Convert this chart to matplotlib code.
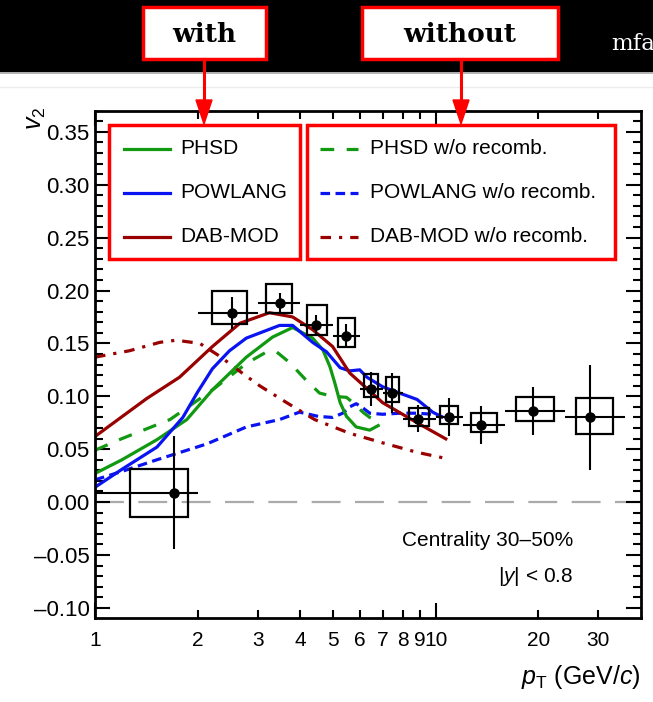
import matplotlib
matplotlib.use("Agg")
import matplotlib.pyplot as plt
from matplotlib.lines import Line2D
from matplotlib.patches import Rectangle, Polygon
from matplotlib.transforms import Affine2D
from matplotlib.ticker import FixedLocator, FuncFormatter, MultipleLocator

plt.rcParams['font.family'] = ['Liberation Sans', 'DejaVu Sans']
plt.rcParams['mathtext.fontset'] = 'custom'
plt.rcParams['mathtext.rm'] = 'Liberation Sans'
plt.rcParams['mathtext.it'] = 'Liberation Sans:italic'

# measured points (pT bins, v2, stat and syst)
pt = [1.7, 2.53, 3.48, 4.44, 5.44, 6.44, 7.43, 8.85, 10.9, 13.6, 19.3, 28.3]
pt_lo = [1, 2, 3, 4, 5, 6, 7, 8, 10, 12, 16, 24]
pt_hi = [2, 3, 4, 5, 6, 7, 8, 10, 12, 16, 24, 36]
v2 = [0.009, 0.179, 0.188, 0.167, 0.157, 0.107, 0.103, 0.079, 0.080, 0.073, 0.086, 0.080]
v2_stat = [0.053, 0.015, 0.010, 0.010, 0.011, 0.016, 0.019, 0.013, 0.018, 0.018, 0.023, 0.050]
sys_pt_lo = [1.27, 2.20, 3.17, 4.18, 5.15, 6.14, 7.13, 8.33, 10.3, 12.7, 17.2, 25.8]
sys_pt_hi = [1.87, 2.80, 3.78, 4.78, 5.78, 6.76, 7.79, 9.53, 11.6, 15.1, 22.2, 33.1]
sys_lo = [-0.014, 0.168, 0.179, 0.158, 0.147, 0.099, 0.095, 0.072, 0.074, 0.066, 0.077, 0.064]
sys_hi = [0.031, 0.200, 0.206, 0.186, 0.174, 0.121, 0.118, 0.089, 0.091, 0.084, 0.099, 0.098]

# model curves
phsd_pt = [1.0, 1.20, 1.52, 1.86, 2.21, 2.78, 3.32, 3.80, 4.35, 4.66, 4.89, 5.05, 5.24, 5.47, 5.84, 6.40, 6.84]
phsd_v2 = [0.027, 0.040, 0.059, 0.078, 0.106, 0.137, 0.156, 0.165, 0.155, 0.144, 0.128, 0.113, 0.094, 0.081, 0.071, 0.068, 0.073]
pow_pt = [1.0, 1.20, 1.52, 1.81, 2.0, 2.21, 2.48, 2.78, 3.48, 3.80, 4.35, 4.78, 5.24, 5.59, 5.98, 6.28, 6.98, 7.83, 8.81, 9.79, 10.5]
pow_v2 = [0.014, 0.031, 0.052, 0.080, 0.104, 0.126, 0.143, 0.155, 0.167, 0.167, 0.151, 0.142, 0.127, 0.124, 0.125, 0.118, 0.109, 0.103, 0.097, 0.085, 0.080]
dab_pt = [1.0, 1.18, 1.42, 1.77, 2.21, 2.66, 3.25, 3.80, 4.35, 4.98, 5.59, 6.98, 8.81, 10.8]
dab_v2 = [0.062, 0.079, 0.098, 0.118, 0.147, 0.169, 0.179, 0.175, 0.163, 0.147, 0.122, 0.094, 0.075, 0.059]

phsd_norec_pt = [1.0, 1.20, 1.66, 2.21, 2.78, 3.19, 3.41, 3.72, 4.17, 4.56, 4.98, 5.47, 5.71, 6.11, 6.40, 6.71]
phsd_norec_v2 = [0.049, 0.060, 0.078, 0.106, 0.131, 0.142, 0.142, 0.132, 0.115, 0.103, 0.100, 0.099, 0.094, 0.085, 0.080, 0.077]
pow_norec_pt = [1.0, 1.20, 1.52, 2.13, 2.78, 3.48, 3.98, 4.52, 4.98, 5.33, 5.59, 5.84, 6.11, 6.40, 6.98, 7.83, 8.81, 9.79, 10.5]
pow_norec_v2 = [0.021, 0.029, 0.040, 0.055, 0.071, 0.078, 0.085, 0.081, 0.080, 0.084, 0.090, 0.093, 0.089, 0.084, 0.083, 0.084, 0.084, 0.083, 0.080]
dab_norec_pt = [1.0, 1.26, 1.55, 1.73, 2.03, 2.32, 2.65, 3.04, 3.65, 4.41, 5.59, 6.98, 8.81, 10.8]
dab_norec_v2 = [0.137, 0.143, 0.151, 0.153, 0.150, 0.138, 0.124, 0.110, 0.094, 0.078, 0.065, 0.056, 0.047, 0.041]

GREEN = '#119911'
BLUE = '#0a14f0'
RED = '#990000'
LW = 2.3

models = [
    ('PHSD', phsd_pt, phsd_v2, dict(color=GREEN, lw=LW)),
    ('POWLANG', pow_pt, pow_v2, dict(color=BLUE, lw=LW)),
    ('DAB-MOD', dab_pt, dab_v2, dict(color=RED, lw=LW)),
]
models_norec = [
    ('PHSD w/o recomb.', phsd_norec_pt, phsd_norec_v2, dict(color=GREEN, lw=LW, dashes=(4.3, 3.9))),
    ('POWLANG w/o recomb.', pow_norec_pt, pow_norec_v2, dict(color=BLUE, lw=LW, dashes=(3.0, 1.7))),
    ('DAB-MOD w/o recomb.', dab_norec_pt, dab_norec_v2, dict(color=RED, lw=LW, dashes=(3.3, 2.5, 1.0, 2.5))),
]

fig = plt.figure(figsize=(6.53, 7.02), dpi=100)
# pixel coordinates measured from the top-left corner
px = Affine2D().scale(1 / 653, -1 / 702).translate(0, 1) + fig.transFigure

ax = fig.add_axes([95 / 653, 84 / 702, 546 / 653, 507 / 702])
ax.set_xscale('log')
ax.set_xlim(1, 40)
ax.set_ylim(-0.1096, 0.3697)

ax.axhline(0, color='#aaaaaa', lw=1.6, dashes=(13, 6.5), zorder=1)

for name, x, y, st in models_norec + models:
    ax.plot(x, y, solid_capstyle='butt', solid_joinstyle='round', zorder=2, **st)

for xl, xh, yl, yh in zip(sys_pt_lo, sys_pt_hi, sys_lo, sys_hi):
    ax.add_patch(Rectangle((xl, yl), xh - xl, yh - yl, fill=False,
                           edgecolor='black', lw=1.6, zorder=3))
xerr = [[p - l for p, l in zip(pt, pt_lo)], [h - p for p, h in zip(pt, pt_hi)]]
ax.errorbar(pt, v2, yerr=v2_stat, xerr=xerr, fmt='o', color='black',
            ms=6.5, elinewidth=1.5, capsize=0, zorder=4)

# ROOT-like ticks
for s in ax.spines.values():
    s.set_linewidth(2)
ax.tick_params(which='both', direction='in', top=True, right=True, width=1.5)
ax.tick_params(which='major', length=11)
ax.tick_params(which='minor', length=5.5)
ax.yaxis.set_major_locator(MultipleLocator(0.05))
ax.yaxis.set_minor_locator(MultipleLocator(0.01))
ax.yaxis.set_major_formatter(FuncFormatter(
    lambda v, p: f"{round(v, 2) + 0.0:.2f}".replace('-', '\u2013')))
ax.tick_params(axis='y', labelsize=16, pad=4)
ax.xaxis.set_major_locator(FixedLocator([1, 10]))
ax.xaxis.set_minor_locator(FixedLocator([2, 3, 4, 5, 6, 7, 8, 9, 20, 30]))
ax.xaxis.set_major_formatter(FuncFormatter(lambda v, p: f"{v:g}"))
ax.xaxis.set_minor_formatter(FuncFormatter(lambda v, p: f"{v:g}"))
ax.tick_params(axis='x', which='both', labelsize=15, pad=9)

fig.text(641, 677, r'$p_{\mathrm{T}}$ (GeV/$c$)', transform=px, ha='right',
         va='center', fontsize=18)
fig.text(36, 118, r'$v_2$', transform=px, ha='center', va='center',
         rotation=90, fontsize=18)
fig.text(573, 541, 'Centrality 30\u201350%', transform=px, ha='right',
         va='center', fontsize=15)
fig.text(573, 576, r'|$y$| < 0.8', transform=px, ha='right',
         va='center', fontsize=15)

# legends in red frames
fig.add_artist(Rectangle((109, 125), 191, 134, transform=px, fill=False,
                         edgecolor='red', lw=2.5))
fig.add_artist(Rectangle((307, 125), 308, 134, transform=px, fill=False,
                         edgecolor='red', lw=2.5))
rows = [149, 193, 237]
for (name, x, y, st), ry in zip(models, rows):
    fig.add_artist(Line2D([124, 170], [ry, ry], transform=px, **st))
    fig.text(180, ry, name, transform=px, va='center', fontsize=15)
for (name, x, y, st), ry in zip(models_norec, rows):
    fig.add_artist(Line2D([320, 358], [ry, ry], transform=px, **st))
    fig.text(370, ry, name, transform=px, va='center', fontsize=15)

# black banner with labels
fig.add_artist(Rectangle((0, 0), 653, 72, transform=px, color='black', zorder=5))
fig.add_artist(Line2D([0, 653], [73, 73], transform=px, color='#b4b4b4', lw=1.4, zorder=5))
fig.add_artist(Line2D([0, 653], [86.5, 86.5], transform=px, color='#ececec', lw=1))
fig.text(611, 44, 'mfa', transform=px, color='white', fontsize=16.5,
         family='DejaVu Serif', va='center', zorder=6)
for x0, w, label in [(143, 123, 'with'), (362, 196, 'without')]:
    fig.add_artist(Rectangle((x0, 7), w, 52, transform=px, facecolor='white',
                             edgecolor='red', lw=2.5, zorder=6))
    fig.text(x0 + w / 2, 34, label, transform=px, ha='center', va='center',
             fontsize=19, fontweight='bold', family='DejaVu Serif', zorder=7)
for xa in [204, 461]:
    fig.add_artist(Line2D([xa, xa], [59, 102], transform=px, color='red',
                          lw=2.2, zorder=6))
    fig.add_artist(Polygon([(xa - 8, 100), (xa + 8, 100), (xa, 124)],
                           closed=True, transform=px, color='red', zorder=6))

fig.savefig('out.png', dpi=100)
